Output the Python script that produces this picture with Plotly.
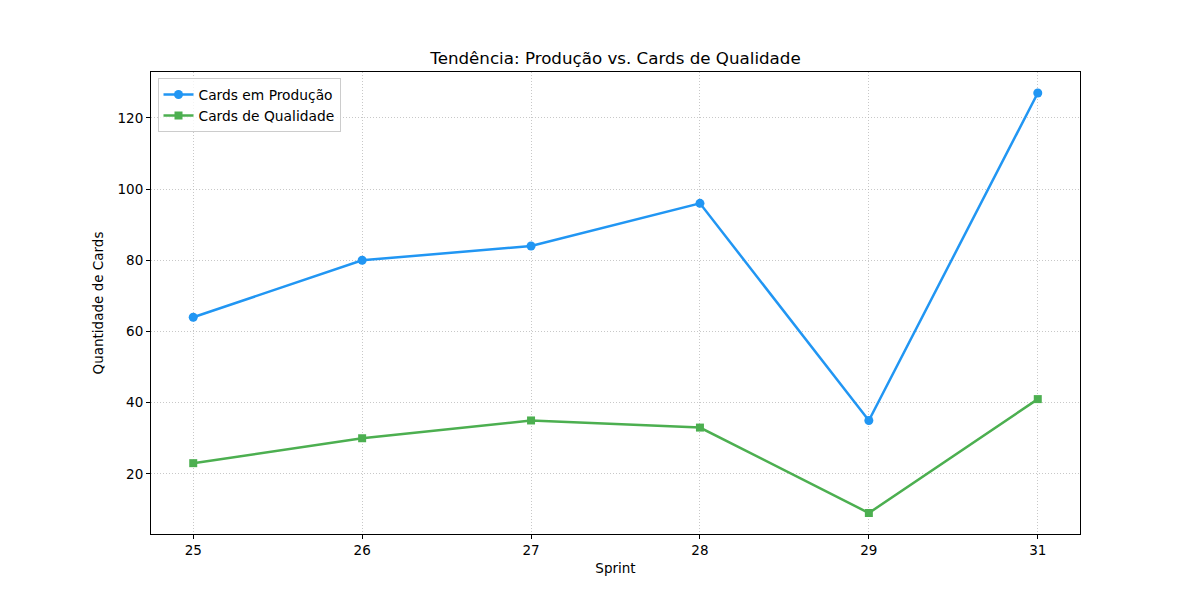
import plotly.graph_objects as go

sprints = ["25", "26", "27", "28", "29", "31"]
producao = [64, 80, 84, 96, 35, 127]
qualidade = [23, 30, 35, 33, 9, 41]

fig = go.Figure()
fig.add_trace(go.Scatter(
    x=sprints, y=producao, mode="lines+markers", name="Cards em Produção",
    line=dict(color="#2196F3", width=2.5),
    marker=dict(symbol="circle", size=9, color="#2196F3"),
))
fig.add_trace(go.Scatter(
    x=sprints, y=qualidade, mode="lines+markers", name="Cards de Qualidade",
    line=dict(color="#4CAF50", width=2.5),
    marker=dict(symbol="square", size=8, color="#4CAF50"),
))

axis_common = dict(
    showline=True, linecolor="black", linewidth=1, mirror=True,
    ticks="outside", ticklen=4, tickcolor="black",
    showgrid=True, gridcolor="rgba(176,176,176,0.7)", griddash="1px,2px", gridwidth=1,
    zeroline=False,
    tickfont=dict(family="DejaVu Sans", size=13.5, color="black"),
)

fig.update_layout(
    width=1200, height=600,
    paper_bgcolor="white", plot_bgcolor="white",
    margin=dict(l=151, r=120, t=72, b=66),
    font=dict(family="DejaVu Sans", size=13.5, color="black"),
    title=dict(text="Tendência: Produção vs. Cards de Qualidade",
               x=0.5, xanchor="center", xref="paper", y=1 - 58 / 600, yanchor="middle",
               font=dict(family="DejaVu Sans", size=16.7, color="black")),
    xaxis=dict(axis_common, type="category", range=[-0.25, 5.25],
               title=dict(text="Sprint", font=dict(size=13.5), standoff=6)),
    yaxis=dict(axis_common, range=[3.1, 132.9], tickvals=[20, 40, 60, 80, 100, 120],
               title=dict(text="Quantidade de Cards", font=dict(size=13.5), standoff=10)),
    legend=dict(x=0.007, y=0.987, xanchor="left", yanchor="top",
                bgcolor="rgba(255,255,255,0.8)", bordercolor="#cccccc", borderwidth=1,
                font=dict(family="DejaVu Sans", size=13.8), tracegroupgap=0,
                itemwidth=30),
    showlegend=True,
)

fig.write_html("out.html")
